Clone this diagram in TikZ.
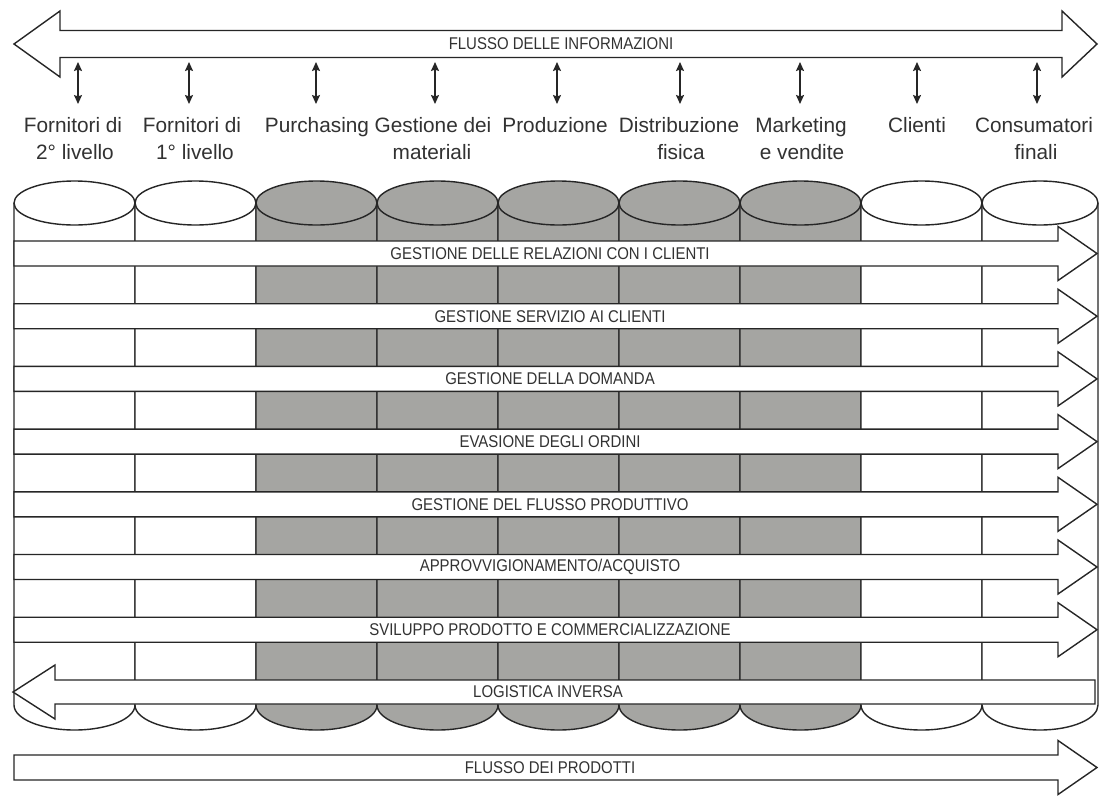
\documentclass[tikz,border=0pt]{standalone}
\usepackage{fontspec}
\setmainfont{Liberation Sans}
\newfontfamily\bandfont[FakeStretch=0.88]{Liberation Sans}
\usetikzlibrary{arrows.meta}
\definecolor{ink}{RGB}{38,38,38}
\definecolor{colgray}{RGB}{165,165,162}
\definecolor{txt}{RGB}{50,50,50}
\tikzset{
  outline/.style={draw=ink, line width=1.4pt, line join=miter},
  band/.style={outline, fill=white},
  bandtxt/.style={text=txt, font=\bandfont\fontsize{17}{17}\selectfont, inner sep=0pt},
  labtxt/.style={text=txt, font=\fontsize{20.8}{24}\selectfont, inner sep=0pt, anchor=base},
  dblarrow/.style={draw=ink, line width=1.5pt, {Stealth[length=9pt,width=8pt,inset=1.5pt]}-{Stealth[length=9pt,width=8pt,inset=1.5pt]}}
}
\newcommand\myband[3]{%
  \pgfmathsetmacro\bt{#1}\pgfmathsetmacro\bb{#1+25}\pgfmathsetmacro\bc{#1+12.5}%
  \filldraw[band] (14,\bt) -- (1058,\bt) -- (1058,\bc-27) -- (1097,\bc) -- (1058,\bc+27) -- (1058,\bb) -- (14,\bb) -- cycle;
  \node[bandtxt] (#2) at (550,\bc) {#3};
}
\begin{document}
\begin{tikzpicture}[x=1pt,y=-1pt]
\useasboundingbox (0,0) rectangle (1099,798);
\fill[white] (0,0) rectangle (1099,798);

% information flow arrow
\filldraw[band] (14,44) -- (60,11) -- (60,30.5) -- (1062,30.5) -- (1062,11) -- (1097,44)
  -- (1062,77) -- (1062,57.5) -- (60,57.5) -- (60,77) -- cycle;
\node[bandtxt] (info) at (561,44) {FLUSSO DELLE INFORMAZIONI};

% small double arrows
\foreach \x [count=\i] in {78,189,316,435,557,680,800,917,1037}{
  \coordinate (up\i) at (\x,62);
  \coordinate (dn\i) at (\x,104);
  \draw[dblarrow] (up\i) -- (dn\i);
}

% labels
\node[labtxt] (l1a) at (73,132) {Fornitori di};
\node[labtxt] (l1b) at (75,159) {2° livello};
\node[labtxt] (l2a) at (192,132) {Fornitori di};
\node[labtxt] (l2b) at (195,159) {1° livello};
\node[labtxt] (l3a) at (317,132) {Purchasing};
\node[labtxt] (l4a) at (433,132) {Gestione dei};
\node[labtxt] (l4b) at (432,159) {materiali};
\node[labtxt] (l5a) at (555,132) {Produzione};
\node[labtxt] (l6a) at (679,132) {Distribuzione};
\node[labtxt] (l6b) at (681,159) {fisica};
\node[labtxt] (l7a) at (801,132) {Marketing};
\node[labtxt] (l7b) at (802,159) {e vendite};
\node[labtxt] (l8a) at (917,132) {Clienti};
\node[labtxt] (l9a) at (1034,132) {Consumatori};
\node[labtxt] (l9b) at (1036,159) {finali};

% cylinders
\foreach \L/\R/\c in {14/135/white,135/256/white,256/377/colgray,377/498/colgray,498/619/colgray,619/740/colgray,740/861/colgray,861/982/white,982/1098/white}{
  \pgfmathsetmacro\rx{(\R-\L)/2}
  \pgfmathsetmacro\cx{(\R+\L)/2}
  \fill[\c] (\L,203) -- (\L,705) arc[start angle=180, end angle=360, x radius=\rx pt, y radius=25pt] -- (\R,203) -- cycle;
  \draw[outline] (\L,203) -- (\L,705) arc[start angle=180, end angle=360, x radius=\rx pt, y radius=25pt] -- (\R,203);
  \filldraw[outline, fill=\c] (\cx,203) ellipse[x radius=\rx pt, y radius=22pt];
}

% process bands
\myband{241}{b1}{GESTIONE DELLE RELAZIONI CON I CLIENTI}
\myband{303.7}{b2}{GESTIONE SERVIZIO AI CLIENTI}
\myband{366.4}{b3}{GESTIONE DELLA DOMANDA}
\myband{429.1}{b4}{EVASIONE DEGLI ORDINI}
\myband{491.8}{b5}{GESTIONE DEL FLUSSO PRODUTTIVO}
\myband{554.5}{b6}{APPROVVIGIONAMENTO/ACQUISTO}
\myband{617.2}{b7}{SVILUPPO PRODOTTO E COMMERCIALIZZAZIONE}

% reverse logistics
\filldraw[band] (1095,680) -- (55,680) -- (55,665) -- (13,692) -- (55,719) -- (55,704) -- (1095,704) -- cycle;
\node[bandtxt] (b8) at (548,692) {LOGISTICA INVERSA};

% product flow
\myband{755}{b9}{FLUSSO DEI PRODOTTI}
\end{tikzpicture}
\end{document}
